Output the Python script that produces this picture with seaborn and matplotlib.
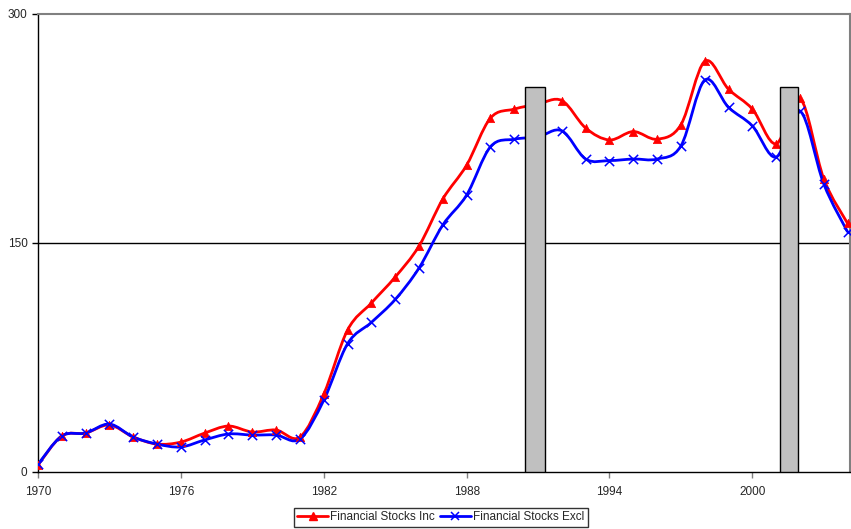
import numpy as np
import seaborn as sns
import matplotlib.pyplot as plt
from matplotlib.path import Path
from matplotlib.patches import PathPatch
from matplotlib.lines import Line2D

years = list(range(1970, 2005))
stocks_inc = [4.6, 23.6, 25.5, 30.8, 22.9, 18.3, 19.6, 25.5, 30.1, 26.2,
              27.5, 22.9, 51.0, 93.0, 110.7, 127.7, 148.0, 178.8, 201.0, 231.8,
              237.7, 241.0, 243.3, 225.3, 217.5, 223.0, 218.0, 227.5, 269.0, 250.7,
              237.7, 215.0, 244.7, 192.0, 162.8]
stocks_excl = [5.0, 23.6, 25.5, 31.4, 22.9, 18.3, 16.4, 21.0, 24.9, 24.2,
               24.2, 21.6, 47.0, 84.0, 98.0, 113.0, 133.6, 161.8, 181.4, 213.0,
               218.0, 219.5, 223.5, 205.0, 204.0, 205.0, 205.0, 213.6, 256.7, 238.8,
               226.7, 206.3, 236.4, 188.6, 157.2]
recession_start = [1990.45, 2001.14]
recession_end = [1991.3, 2001.9]
recession_top = [252, 252]

sns.set_style("white")
plt.rcParams['font.family'] = ['Liberation Sans', 'DejaVu Sans']


def smooth_path(x, y):
    # Excel style smoothed line: Catmull-Rom segments as cubic Beziers
    p = np.column_stack([x, y]).astype(float)
    ext = np.vstack([p[0], p, p[-1]])
    verts = [p[0]]
    codes = [Path.MOVETO]
    for i in range(len(p) - 1):
        p0, p1, p2, p3 = ext[i], ext[i + 1], ext[i + 2], ext[i + 3]
        verts += [p1 + (p2 - p0) / 6, p2 - (p3 - p1) / 6, p2]
        codes += [Path.CURVE4] * 3
    return Path(verts, codes)


fig = plt.figure(figsize=(8.51, 5.29), dpi=100)
ax = fig.add_axes([38 / 851, 1 - 472 / 529, 812 / 851, 458 / 529])

ax.axhline(150, color='black', lw=1, zorder=1)

ax.add_patch(PathPatch(smooth_path(years, stocks_inc), fill=False,
                       edgecolor='#FF0000', lw=2.0, zorder=2))
ax.add_patch(PathPatch(smooth_path(years, stocks_excl), fill=False,
                       edgecolor='#0000FF', lw=2.0, zorder=3))
sns.scatterplot(x=years, y=stocks_inc, marker='^', s=36, color='#FF0000',
                edgecolor='#FF0000', linewidth=0.5, ax=ax, zorder=4)
sns.scatterplot(x=years, y=stocks_excl, marker='x', s=45, color='#0000FF',
                linewidth=1.1, ax=ax, zorder=5)

for s, e, t in zip(recession_start, recession_end, recession_top):
    ax.bar(s, t, width=e - s, align='edge', color='#C0C0C0',
           edgecolor='black', linewidth=1.0, zorder=6)

ax.set_xlim(1970, 2004.1)
ax.set_ylim(0, 300)
ax.set_xticks(range(1970, 2001, 6))
ax.set_yticks([0, 150, 300])
ax.tick_params(axis='both', labelsize=8.5, length=4, width=1,
               direction='out', color='black', left=True, bottom=True)
ax.tick_params(axis='x', color='#808080', pad=6)
for side in ['top', 'right']:
    ax.spines[side].set_color('#808080')
    ax.spines[side].set_linewidth(1.5)
for side in ['left', 'bottom']:
    ax.spines[side].set_color('black')
    ax.spines[side].set_linewidth(1)

handles = [Line2D([], [], color='#FF0000', lw=2.0, marker='^', ms=6),
           Line2D([], [], color='#0000FF', lw=2.0, marker='x', ms=6, mew=1.1)]
leg = fig.legend(handles, ['Financial Stocks Inc', 'Financial Stocks Excl'],
                 loc='lower center', bbox_to_anchor=(0.518, 0.0), ncol=2,
                 fontsize=8.5, frameon=True, fancybox=False, handlelength=2.6,
                 columnspacing=0.4, handletextpad=0.2, borderpad=0.3,
                 borderaxespad=0.2)
leg.get_frame().set_edgecolor('black')
leg.get_frame().set_linewidth(1)

fig.savefig('out.png', dpi=100)
